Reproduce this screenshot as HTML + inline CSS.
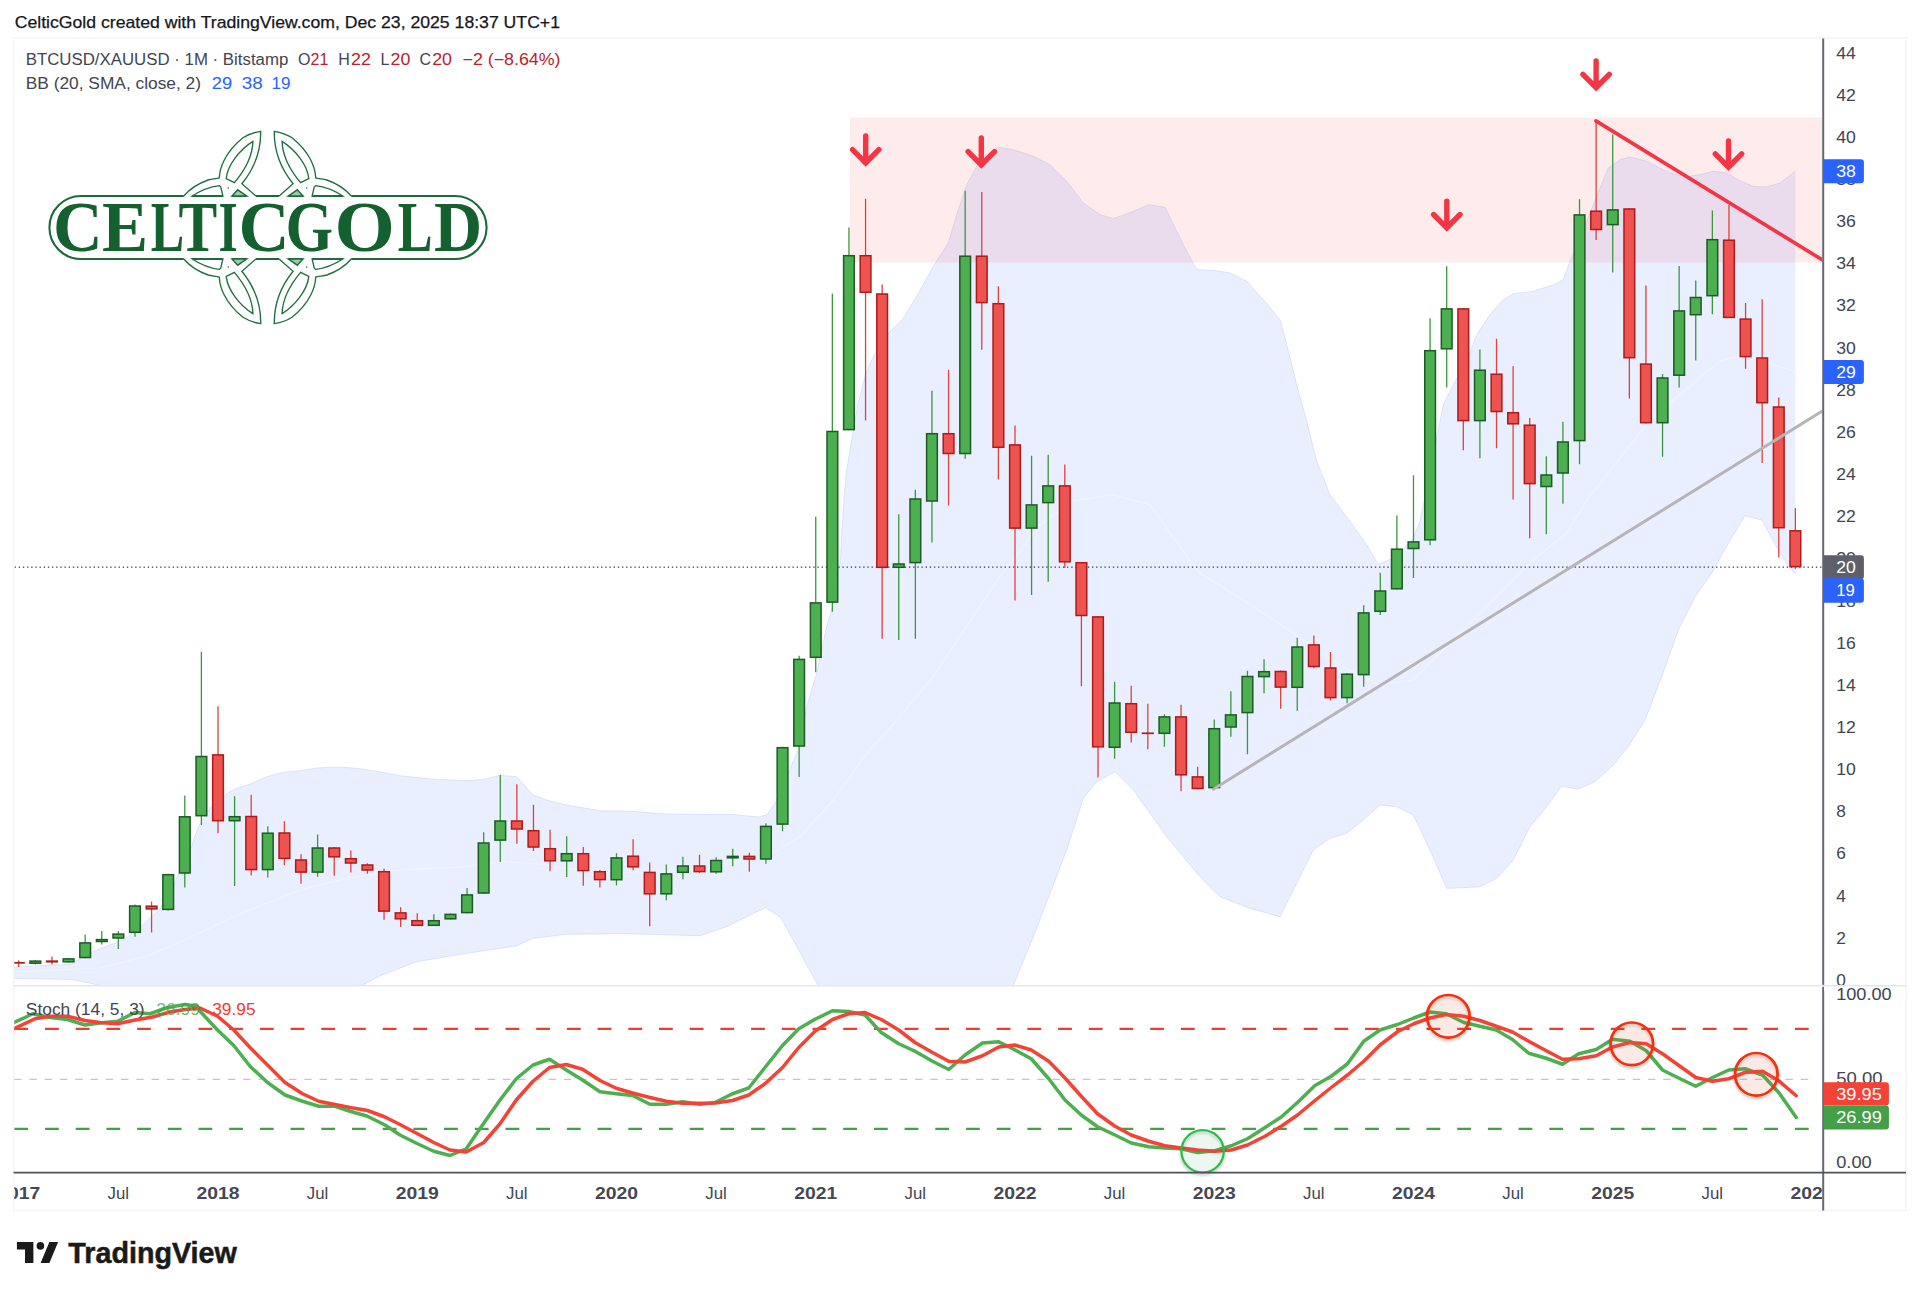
<!DOCTYPE html>
<html lang="en"><head><meta charset="utf-8"><title>BTCUSD/XAUUSD chart - CelticGold</title>
<style>html,body{margin:0;padding:0;background:#fff}body{width:1920px;height:1295px;overflow:hidden}svg{display:block;font-family:'Liberation Sans', Arial, Helvetica, sans-serif}</style></head><body>
<svg width="1920" height="1295" viewBox="0 0 1920 1295">
<defs>
<clipPath id="mainclip"><rect x="14.3" y="38.5" width="1807.7" height="946.5"/></clipPath>
<clipPath id="stochclip"><rect x="14.3" y="986" width="1807.7" height="186.1"/></clipPath>
<clipPath id="timeclip"><rect x="14.3" y="1172.6" width="1807.7" height="37.9"/></clipPath>
<filter id="sh" x="-30%" y="-30%" width="160%" height="180%"><feGaussianBlur in="SourceAlpha" stdDeviation="1.6"/><feOffset dy="2.2" result="b"/><feComponentTransfer><feFuncA type="linear" slope="0.28"/></feComponentTransfer><feMerge><feMergeNode/><feMergeNode in="SourceGraphic"/></feMerge></filter>
</defs>
<rect width="1920" height="1295" fill="#ffffff"/>
<text x="14.7" y="27.5" font-size="16.4" fill="#15171c" text-anchor="start" font-weight="normal" textLength="545.3" lengthAdjust="spacingAndGlyphs" stroke="#15171c" stroke-width="0.25">CelticGold created with TradingView.com, Dec 23, 2025 18:37 UTC+1</text>
<rect x="13.6" y="37.8" width="1892.4" height="1172.7" fill="none" stroke="#f5f5f7" stroke-width="1.6"/>
<g clip-path="url(#mainclip)">
<polygon points="13,967 14.2,966.9 71,964.3 92.4,951.8 110.1,944.7 124.3,939.4 142.1,925.2 159.9,909.2 174.1,884.3 184.7,859.5 191.7,845.8 198.3,826.7 210,808 228.3,792.5 236.7,788.3 250,784.2 266.7,776.7 283.3,772.5 300,770.8 316.7,768 333.3,767 350,767.7 366.7,769.7 383.3,772.5 400,775.8 433.3,779.2 466.7,780.8 483,779.5 500,775.3 516.7,776.7 533.3,795 550,801 566.7,805 600,810.8 633,811.3 666.7,814.2 733,814.5 758,817 766.7,815 775,803.3 788.3,773.3 800,745 806.7,706.7 816.7,673.3 826.7,626.7 833.3,603.3 840.5,559.7 841.7,535.8 844.2,495 846.7,470 850,450 853.3,430 857.5,406.7 861.7,390 865.8,373.3 871.7,360 880,345 890,331.7 901.7,320 905,315.5 916.7,296.3 933.3,266.3 948.3,243 956.7,214.7 966.7,184.7 976.7,166.3 986.7,154.7 998.3,147.3 1013.3,149.7 1033.3,156.3 1050,164.7 1066.7,181.3 1083.3,203 1100,214.7 1113.3,218.7 1133.3,211.3 1148.3,204.7 1165,207.3 1176.7,231.3 1186.7,251.3 1196.7,269.7 1213.3,270.3 1230,273 1246.7,281.3 1263.3,299.7 1280,319.7 1286.7,344.7 1296.7,384.7 1306.7,421.3 1316.7,461.3 1330,494.7 1350,521.3 1366.7,544.7 1378,564.5 1396.7,556.7 1413.3,538 1420,521.3 1430,472 1443.3,404.7 1453.3,384.7 1466.7,361.3 1476.7,334.7 1490,314.7 1503.3,299.7 1513.3,293.7 1533.3,291.3 1553.3,284.7 1563.3,279.7 1570,261.3 1580,238 1600,188 1608.3,168 1620,159.7 1630,157 1646.7,161.3 1666.7,171.3 1683.3,177.3 1700,174.7 1713.3,171.3 1726.7,173 1740,180.7 1753.3,186.3 1766.7,187 1780,183 1795.4,171.3 1795.4,574 1789,567 1778.3,550 1761.7,520 1745,515.7 1728.3,543.3 1711.7,573.3 1695,596.7 1678.3,630 1661.7,676.7 1645,720 1628.3,746.7 1611.7,766.7 1595,781.7 1578.3,789.3 1561.7,786 1546.7,806.7 1530,826.7 1513.3,860 1496.7,878.3 1480,886.7 1463.3,887.7 1446.7,888.3 1430,850 1413.3,815 1396.7,806.7 1380,805 1363.3,820 1346.7,833.3 1330,838.3 1313.3,850 1296.7,883.3 1280,916.7 1250,908.3 1220,896.7 1200,876.7 1183.3,856.7 1166.7,836.7 1150,813.3 1133.3,790 1115,771.7 1096.7,781.7 1083.3,798.3 1066.7,850 1050,893.3 1033.3,936.7 1013.3,985.5 1005,1000 830,1000 818.3,985.5 806.7,965 793.3,940 780,916.7 765.7,907.7 750,915 726.7,926.7 700,935.7 619.8,933.5 600,934 566.7,934.2 533.3,938.3 516.7,945.8 466.7,953.3 416.7,961.7 380,975.8 362,985.5 330,1000 130,1000 100,985.5 88.8,982.9 71,979.4 14.2,978.5 13,978.5" fill="#2962ff" fill-opacity="0.1"/>
<polyline points="13,967 14.2,966.9 71,964.3 92.4,951.8 110.1,944.7 124.3,939.4 142.1,925.2 159.9,909.2 174.1,884.3 184.7,859.5 191.7,845.8 198.3,826.7 210,808 228.3,792.5 236.7,788.3 250,784.2 266.7,776.7 283.3,772.5 300,770.8 316.7,768 333.3,767 350,767.7 366.7,769.7 383.3,772.5 400,775.8 433.3,779.2 466.7,780.8 483,779.5 500,775.3 516.7,776.7 533.3,795 550,801 566.7,805 600,810.8 633,811.3 666.7,814.2 733,814.5 758,817 766.7,815 775,803.3 788.3,773.3 800,745 806.7,706.7 816.7,673.3 826.7,626.7 833.3,603.3 840.5,559.7 841.7,535.8 844.2,495 846.7,470 850,450 853.3,430 857.5,406.7 861.7,390 865.8,373.3 871.7,360 880,345 890,331.7 901.7,320 905,315.5 916.7,296.3 933.3,266.3 948.3,243 956.7,214.7 966.7,184.7 976.7,166.3 986.7,154.7 998.3,147.3 1013.3,149.7 1033.3,156.3 1050,164.7 1066.7,181.3 1083.3,203 1100,214.7 1113.3,218.7 1133.3,211.3 1148.3,204.7 1165,207.3 1176.7,231.3 1186.7,251.3 1196.7,269.7 1213.3,270.3 1230,273 1246.7,281.3 1263.3,299.7 1280,319.7 1286.7,344.7 1296.7,384.7 1306.7,421.3 1316.7,461.3 1330,494.7 1350,521.3 1366.7,544.7 1378,564.5 1396.7,556.7 1413.3,538 1420,521.3 1430,472 1443.3,404.7 1453.3,384.7 1466.7,361.3 1476.7,334.7 1490,314.7 1503.3,299.7 1513.3,293.7 1533.3,291.3 1553.3,284.7 1563.3,279.7 1570,261.3 1580,238 1600,188 1608.3,168 1620,159.7 1630,157 1646.7,161.3 1666.7,171.3 1683.3,177.3 1700,174.7 1713.3,171.3 1726.7,173 1740,180.7 1753.3,186.3 1766.7,187 1780,183 1795.4,171.3" fill="none" stroke="#cdd6f3" stroke-opacity="0.6" stroke-width="1"/>
<polyline points="13,978.5 14.2,978.5 71,979.4 88.8,982.9 100,985.5 130,1000 330,1000 362,985.5 380,975.8 416.7,961.7 466.7,953.3 516.7,945.8 533.3,938.3 566.7,934.2 600,934 619.8,933.5 700,935.7 726.7,926.7 750,915 765.7,907.7 780,916.7 793.3,940 806.7,965 818.3,985.5 830,1000 1005,1000 1013.3,985.5 1033.3,936.7 1050,893.3 1066.7,850 1083.3,798.3 1096.7,781.7 1115,771.7 1133.3,790 1150,813.3 1166.7,836.7 1183.3,856.7 1200,876.7 1220,896.7 1250,908.3 1280,916.7 1296.7,883.3 1313.3,850 1330,838.3 1346.7,833.3 1363.3,820 1380,805 1396.7,806.7 1413.3,815 1430,850 1446.7,888.3 1463.3,887.7 1480,886.7 1496.7,878.3 1513.3,860 1530,826.7 1546.7,806.7 1561.7,786 1578.3,789.3 1595,781.7 1611.7,766.7 1628.3,746.7 1645,720 1661.7,676.7 1678.3,630 1695,596.7 1711.7,573.3 1728.3,543.3 1745,515.7 1761.7,520 1778.3,550 1789,567 1795.4,574" fill="none" stroke="#cdd6f3" stroke-opacity="0.6" stroke-width="1"/>
<polyline points="14,972 100,968 150,955 200,933 233,916.7 266.7,903.3 300,890 333,881.7 366.7,875 400,870 433,868.3 466.7,866.7 500,861.7 533,863.3 566.7,868.3 640,873.3 700,870 766.7,856.7 800,836.7 833.3,800 866.7,753.3 900,716.7 933.3,676.7 966.7,626.7 1000,576.7 1040,525 1073,501 1113,494.7 1150,504.7 1183,551 1200,573 1243,600 1293,633 1340,665 1380,685 1413,680 1460,633 1533,560 1567,533 1587,500 1650,420 1720,361 1745,355 1795.4,371.8" fill="none" stroke="#ffffff" stroke-opacity="0.35" stroke-width="1.2"/>
<rect x="850" y="117.5" width="973" height="145" fill="#f23645" fill-opacity="0.1"/>
<line x1="14.6" y1="567.1" x2="1823" y2="567.1" stroke="#33363f" stroke-width="1.25" stroke-dasharray="1.3 2.86"/>
<path d="M35.35 960.2V964.6M68.56 958.2V962.5M85.17 934.4V958.2M101.77 930.9V944.4M118.37 931V949M134.98 904.4V936.7M168.19 873.7V910.6M184.79 795.5V887.5M201.39 651.7V825M234.6 796.2V886.1M267.81 826.2V877.4M317.62 834.5V876.7M433.85 914.3V926M450.45 913.5V919.5M467.06 888V913.3M483.66 832.2V893.7M500.27 775V862M566.68 836.3V877M616.49 853.3V885.6M666.31 864.5V900.3M682.91 856.7V879.3M716.12 857.2V873.7M732.72 848.7V866.2M765.93 823.3V863.8M782.53 746.7V831.3M799.14 655.8V777M815.74 516.7V672.2M832.35 293.7V611.7M848.95 227.5V430.3M898.76 514.2V640M915.37 489.7V638.7M931.97 390.8V542.5M965.18 190.8V458.8M1031.59 455.8V595M1048.2 454.7V581.7M1114.61 681.7V758.7M1164.43 714.2V746.7M1214.24 719.5V788.3M1230.84 691.3V736.7M1247.45 670.8V754.2M1264.05 659.2V693.3M1297.26 637.8V710.8M1347.07 673.3V703.3M1363.67 605.3V686.7M1380.28 572.8V615M1396.88 515.5V589.5M1413.49 475.3V578M1430.09 318.3V545.3M1446.69 266.2V387.5M1479.9 349.5V458.3M1546.32 456.3V534.2M1562.92 421.7V503.7M1579.53 199.2V464.2M1612.73 134.3V272.5M1662.55 374V456.7M1679.15 265.9V387.6M1695.75 280.4V360.5M1712.36 210.4V314.3" stroke="#3d963f" stroke-width="1.3" fill="none"/>
<path d="M18.75 960.2V966.9M51.96 956.6V964.6M151.58 901.6V932.6M218 706.2V833.3M251.21 794.7V875.5M284.41 821.3V865.3M301.02 854.2V883.7M334.23 847V875.8M350.83 850.5V872.5M367.43 863.3V873.8M384.04 868.7V919.7M400.64 907.2V927M417.25 913.3V926M516.87 784.2V843.8M533.47 804.7V851M550.08 829.7V871.3M583.29 847V885.8M599.89 870V887.5M633.1 839.2V870.3M649.7 862.5V926.3M699.51 854.7V872.8M749.33 852.8V871.7M865.55 198.8V420.5M882.16 284.5V638.7M948.57 369.7V505.5M981.78 192V349.7M998.39 286.2V479.5M1014.99 425.5V600.5M1064.8 464.5V568M1081.41 562V686.3M1098.01 616.2V777.5M1131.22 685.8V742.5M1147.82 703.7V749.2M1181.03 704.7V791.3M1197.63 766.7V789.2M1280.65 670.5V708.7M1313.86 635.5V668.3M1330.47 652V700.5M1463.3 308.2V450.3M1496.51 338.8V448.3M1513.11 366.3V499.5M1529.71 418V538.3M1596.13 120.7V240M1629.34 208.3V398.4M1645.94 285.4V423.4M1728.96 205V318.1M1745.57 303.1V368.8M1762.17 299.3V462.9M1778.77 397.5V557.6M1795.38 508.1V568.8" stroke="#dd423d" stroke-width="1.3" fill="none"/>
<g fill="#4caf50" stroke="#1d5a25" stroke-width="1.5"><rect x="30" y="961.1" width="10.7" height="2.1"/><rect x="63.21" y="958.9" width="10.7" height="2.9"/><rect x="79.82" y="942.9" width="10.7" height="14.6"/><rect x="96.42" y="939.6" width="10.7" height="1.9"/><rect x="113.02" y="934.1" width="10.7" height="3.9"/><rect x="129.63" y="906" width="10.7" height="26.3"/><rect x="162.84" y="874.7" width="10.7" height="34.7"/><rect x="179.44" y="816.8" width="10.7" height="56.2"/><rect x="196.04" y="756.5" width="10.7" height="59.2"/><rect x="229.25" y="816.7" width="10.7" height="4"/><rect x="262.46" y="833.2" width="10.7" height="36.4"/><rect x="312.27" y="848" width="10.7" height="24.1"/><rect x="428.5" y="920.7" width="10.7" height="4.6"/><rect x="445.1" y="914.4" width="10.7" height="4.4"/><rect x="461.71" y="894.9" width="10.7" height="17.7"/><rect x="478.31" y="843" width="10.7" height="50"/><rect x="494.92" y="821" width="10.7" height="19.1"/><rect x="561.33" y="853.7" width="10.7" height="7.1"/><rect x="611.14" y="857.9" width="10.7" height="21.8"/><rect x="660.96" y="873.9" width="10.7" height="19.9"/><rect x="677.56" y="866" width="10.7" height="6.3"/><rect x="710.77" y="860.5" width="10.7" height="11.3"/><rect x="727.37" y="856.4" width="10.7" height="1.4"/><rect x="760.58" y="826.4" width="10.7" height="32.6"/><rect x="777.18" y="747.7" width="10.7" height="76.4"/><rect x="793.79" y="659.4" width="10.7" height="86.6"/><rect x="810.39" y="602.9" width="10.7" height="54.4"/><rect x="827" y="431.5" width="10.7" height="170.6"/><rect x="843.6" y="255.7" width="10.7" height="173.9"/><rect x="893.41" y="564" width="10.7" height="3.3"/><rect x="910.02" y="499" width="10.7" height="63.6"/><rect x="926.62" y="433.7" width="10.7" height="67.3"/><rect x="959.83" y="256.2" width="10.7" height="197.3"/><rect x="1026.24" y="504.9" width="10.7" height="23.2"/><rect x="1042.85" y="485.9" width="10.7" height="16.7"/><rect x="1109.26" y="703" width="10.7" height="44.3"/><rect x="1159.08" y="716.9" width="10.7" height="16.4"/><rect x="1208.89" y="728.7" width="10.7" height="58.9"/><rect x="1225.49" y="714.9" width="10.7" height="12.1"/><rect x="1242.1" y="676.5" width="10.7" height="36.1"/><rect x="1258.7" y="671.7" width="10.7" height="4.9"/><rect x="1291.91" y="647" width="10.7" height="40.3"/><rect x="1341.72" y="674.2" width="10.7" height="23.4"/><rect x="1358.32" y="612.9" width="10.7" height="61.7"/><rect x="1374.93" y="591" width="10.7" height="20.3"/><rect x="1391.53" y="549.2" width="10.7" height="39.6"/><rect x="1408.14" y="541.9" width="10.7" height="6.6"/><rect x="1424.74" y="350.7" width="10.7" height="189.1"/><rect x="1441.34" y="308.9" width="10.7" height="39.9"/><rect x="1474.55" y="370.2" width="10.7" height="50.4"/><rect x="1540.97" y="475" width="10.7" height="11.5"/><rect x="1557.57" y="442" width="10.7" height="31"/><rect x="1574.18" y="214.9" width="10.7" height="225.7"/><rect x="1607.38" y="209.9" width="10.7" height="14.7"/><rect x="1657.2" y="378" width="10.7" height="44.7"/><rect x="1673.8" y="310.9" width="10.7" height="64.3"/><rect x="1690.4" y="297.5" width="10.7" height="17.2"/><rect x="1707.01" y="239.7" width="10.7" height="56"/></g>
<g fill="#ef5350" stroke="#ab1b1b" stroke-width="1.5"><rect x="13.4" y="962.7" width="10.7" height="0.2"/><rect x="46.61" y="961.1" width="10.7" height="0.7"/><rect x="146.23" y="906.2" width="10.7" height="2.7"/><rect x="212.65" y="754.9" width="10.7" height="65.8"/><rect x="245.86" y="816.5" width="10.7" height="53.1"/><rect x="279.06" y="833" width="10.7" height="25.4"/><rect x="295.67" y="860" width="10.7" height="12.1"/><rect x="328.88" y="848" width="10.7" height="8.8"/><rect x="345.48" y="858.7" width="10.7" height="4.3"/><rect x="362.08" y="865" width="10.7" height="5"/><rect x="378.69" y="871.7" width="10.7" height="39.4"/><rect x="395.29" y="912.9" width="10.7" height="5.9"/><rect x="411.9" y="920.7" width="10.7" height="4.6"/><rect x="511.52" y="821" width="10.7" height="8"/><rect x="528.12" y="830.7" width="10.7" height="16.3"/><rect x="544.73" y="848.7" width="10.7" height="12.1"/><rect x="577.94" y="853.7" width="10.7" height="16.9"/><rect x="594.54" y="871.7" width="10.7" height="7.9"/><rect x="627.75" y="856.2" width="10.7" height="10.6"/><rect x="644.35" y="872.4" width="10.7" height="21.4"/><rect x="694.16" y="866" width="10.7" height="5.6"/><rect x="743.98" y="856.4" width="10.7" height="2.6"/><rect x="860.2" y="255.7" width="10.7" height="36.6"/><rect x="876.81" y="294" width="10.7" height="273.3"/><rect x="943.22" y="433.7" width="10.7" height="19.8"/><rect x="976.43" y="256.2" width="10.7" height="46.4"/><rect x="993.04" y="303.7" width="10.7" height="143.6"/><rect x="1009.64" y="444.9" width="10.7" height="83.2"/><rect x="1059.45" y="485.9" width="10.7" height="75.9"/><rect x="1076.06" y="562.7" width="10.7" height="52.8"/><rect x="1092.66" y="616.9" width="10.7" height="129.9"/><rect x="1125.87" y="703.7" width="10.7" height="28.6"/><rect x="1142.47" y="733.2" width="10.7" height="0.2"/><rect x="1175.68" y="716.9" width="10.7" height="57.9"/><rect x="1192.28" y="776.9" width="10.7" height="11.6"/><rect x="1275.3" y="671.5" width="10.7" height="15.6"/><rect x="1308.51" y="644.9" width="10.7" height="21.6"/><rect x="1325.12" y="668" width="10.7" height="29.6"/><rect x="1457.95" y="308.9" width="10.7" height="111.7"/><rect x="1491.16" y="374.2" width="10.7" height="37.3"/><rect x="1507.76" y="412.7" width="10.7" height="11.1"/><rect x="1524.36" y="425.2" width="10.7" height="58.4"/><rect x="1590.78" y="211.2" width="10.7" height="18.3"/><rect x="1623.99" y="209" width="10.7" height="148.7"/><rect x="1640.59" y="364.1" width="10.7" height="58.6"/><rect x="1723.61" y="240.2" width="10.7" height="77.2"/><rect x="1740.22" y="319.1" width="10.7" height="37.5"/><rect x="1756.82" y="358" width="10.7" height="44.7"/><rect x="1773.42" y="407" width="10.7" height="120.7"/><rect x="1790.03" y="530.8" width="10.7" height="35.8"/></g>
<line x1="1213.3" y1="789.2" x2="1823" y2="410.6" stroke="#b5b5b6" stroke-width="3.0" stroke-linecap="round"/>
<line x1="1595.9" y1="120.9" x2="1823" y2="260.3" stroke="#f23645" stroke-width="3.6" stroke-linecap="round"/>
<path d="M865.7 136V163M852.5 149.7L865.7 163L878.9 149.7" fill="none" stroke="#f23645" stroke-width="5.4" stroke-linecap="round" stroke-linejoin="miter"/>
<path d="M981.3 138V165M968.1 151.7L981.3 165L994.5 151.7" fill="none" stroke="#f23645" stroke-width="5.4" stroke-linecap="round" stroke-linejoin="miter"/>
<path d="M1446.8 201.1V227.8M1433.6 214.5L1446.8 227.8L1460 214.5" fill="none" stroke="#f23645" stroke-width="5.4" stroke-linecap="round" stroke-linejoin="miter"/>
<path d="M1596.1 60.9V87.6M1582.9 74.3L1596.1 87.6L1609.3 74.3" fill="none" stroke="#f23645" stroke-width="5.4" stroke-linecap="round" stroke-linejoin="miter"/>
<path d="M1728.5 141V167.1M1715.3 153.8L1728.5 167.1L1741.7 153.8" fill="none" stroke="#f23645" stroke-width="5.4" stroke-linecap="round" stroke-linejoin="miter"/>
</g>
<text x="25.7" y="65" font-size="16" fill="#42454f" text-anchor="start" font-weight="normal" textLength="262.6" lengthAdjust="spacingAndGlyphs">BTCUSD/XAUUSD · 1M · Bitstamp</text>
<text x="297.9" y="65" font-size="16" fill="#42454f" text-anchor="start" font-weight="normal">O</text>
<text x="310.6" y="65" font-size="16" fill="#b9222c" text-anchor="start" font-weight="normal" textLength="17.8" lengthAdjust="spacingAndGlyphs">21</text>
<text x="338.3" y="65" font-size="16" fill="#42454f" text-anchor="start" font-weight="normal">H</text>
<text x="351" y="65" font-size="16" fill="#b9222c" text-anchor="start" font-weight="normal" textLength="19.8" lengthAdjust="spacingAndGlyphs">22</text>
<text x="380.6" y="65" font-size="16" fill="#42454f" text-anchor="start" font-weight="normal">L</text>
<text x="390.6" y="65" font-size="16" fill="#b9222c" text-anchor="start" font-weight="normal" textLength="19.7" lengthAdjust="spacingAndGlyphs">20</text>
<text x="419.5" y="65" font-size="16" fill="#42454f" text-anchor="start" font-weight="normal">C</text>
<text x="432.2" y="65" font-size="16" fill="#b9222c" text-anchor="start" font-weight="normal" textLength="19.8" lengthAdjust="spacingAndGlyphs">20</text>
<text x="462.5" y="65" font-size="16" fill="#b9222c" text-anchor="start" font-weight="normal" textLength="98" lengthAdjust="spacingAndGlyphs">−2 (−8.64%)</text>
<text x="25.8" y="89.2" font-size="16" fill="#42454f" text-anchor="start" font-weight="normal" textLength="175.2" lengthAdjust="spacingAndGlyphs">BB (20, SMA, close, 2)</text>
<text x="211.7" y="89.2" font-size="16" fill="#2962ff" text-anchor="start" font-weight="normal" textLength="20.4" lengthAdjust="spacingAndGlyphs">29</text>
<text x="241.8" y="89.2" font-size="16" fill="#2962ff" text-anchor="start" font-weight="normal" textLength="21" lengthAdjust="spacingAndGlyphs">38</text>
<text x="271.6" y="89.2" font-size="16" fill="#2962ff" text-anchor="start" font-weight="normal" textLength="19" lengthAdjust="spacingAndGlyphs">19</text>
<g clip-path="url(#stochclip)">
<line x1="14.1" y1="1079.4" x2="1810" y2="1079.4" stroke="#c6c6c8" stroke-width="1.1" stroke-dasharray="7.5 7.77"/>
<line x1="14.3" y1="1028.9" x2="1810" y2="1028.9" stroke="#f23b30" stroke-width="2.3" stroke-dasharray="13.8 16.9"/>
<line x1="14.3" y1="1128.9" x2="1810" y2="1128.9" stroke="#43a047" stroke-width="2.3" stroke-dasharray="13.8 16.9"/>
<polyline points="14,1022.5 25,1017.5 32.5,1013.75 50,1017.5 67.5,1019.5 85,1025 100,1023 117.5,1021.25 135,1012.5 150,1013.75 167.5,1007.5 185,1004.5 197.5,1006.25 200,1011.25 217.5,1030 233.75,1045.5 250,1066.25 267.5,1082.5 285,1095 302.5,1101.25 318.75,1106.25 335,1106.25 350,1111.25 367.5,1116.25 385,1125 400,1135 417.5,1143.75 433.75,1151.25 450,1155.5 466.25,1148.75 482.5,1125 500,1100 516.25,1078.75 533,1065 549.5,1059.25 566.25,1070 582.5,1080 600,1091.75 616.25,1093.75 632.5,1095.5 650,1104.25 666.25,1104.25 682.5,1101.75 700,1104.25 715,1102.5 732.5,1093.75 748.75,1088 765,1067.5 782.5,1045.5 798.75,1028.75 815,1019.25 832.5,1010.75 848.75,1011.5 865,1015 881.25,1032.5 898.75,1043.75 915,1051.25 932.5,1061.25 948.75,1069.5 965,1055 982.5,1043 998.75,1041.75 1015,1050 1031.25,1058.75 1048.75,1078.75 1065,1100 1081.25,1115 1097.5,1126.75 1115,1135 1131.25,1143 1148.75,1146.75 1165,1148 1181.25,1148.75 1197.5,1152.5 1215,1150.75 1231.25,1145.75 1247.5,1138.75 1265,1127.5 1281.25,1117 1297.5,1102.5 1315,1085.5 1331.25,1076.25 1347.5,1063.75 1363.75,1041.25 1380,1030 1397.5,1024.5 1413.75,1018 1430,1012 1446.25,1013.75 1463.75,1022.5 1480,1026.25 1496.25,1030 1512.5,1039.5 1528.75,1053.25 1546.25,1058.25 1562.5,1064.25 1578.75,1053.75 1596.25,1049.5 1612.5,1039.25 1630,1041.25 1646.25,1050.75 1662.5,1070 1680,1078.75 1695.75,1086.25 1712.5,1077.5 1728.75,1070 1745,1068.75 1762.5,1075 1778.75,1092.5 1796.25,1117.5" fill="none" stroke="#4caf50" stroke-width="3.5" stroke-linejoin="round" stroke-linecap="round"/>
<polyline points="14,1028.75 35,1018.75 50,1016.25 67.5,1016.25 85,1020.5 100,1022.5 117.5,1023.75 135,1020 152.5,1017 170,1012 185,1009.5 200,1008 217.5,1016.25 233.75,1030 250,1047.5 267.5,1065 285,1082.5 302.5,1093.75 318.75,1101.25 335,1104.5 350,1107.5 367.5,1110.5 385,1117 400,1124.5 417.5,1133.75 433.75,1142.5 450,1150 466.25,1152 483.75,1142.5 500,1123.75 516.25,1100 533,1081.25 549.5,1067.5 566.25,1064.5 582.5,1069.25 600,1080.5 616.25,1088.25 632.5,1093 650,1097.5 666.25,1101.25 682.5,1103.25 700,1103.25 715,1103 732.5,1100.5 748.75,1095 765,1083.75 782.5,1067.5 798.75,1047.5 815,1031.25 832.5,1019.5 848.75,1013.75 865,1012.5 881.25,1019.5 898.75,1030 915,1042.5 932.5,1052.5 948.75,1061.25 965,1062 982.5,1055.75 998.75,1047 1015,1045 1031.25,1050 1048.75,1061.25 1065,1078 1081.25,1096.25 1097.5,1113.75 1115,1126.25 1131.25,1135 1148.75,1141.25 1165,1145.75 1181.25,1148 1197.5,1150 1215,1151.25 1231.25,1150 1247.5,1145 1265,1136.25 1281.25,1126.25 1297.5,1115 1315,1100.5 1331.25,1087.5 1347.5,1075 1363.75,1061.25 1380,1045 1397.5,1031.75 1413.75,1023.75 1430,1018 1446.25,1014.5 1463.75,1016.25 1480,1020.5 1496.25,1026.25 1512.5,1032 1528.75,1041.25 1546.25,1050.75 1562.5,1059.25 1578.75,1058.75 1596.25,1055.75 1612.5,1047 1630,1042.5 1646.25,1043.75 1662.5,1053.75 1680,1066.25 1695.75,1077.5 1712.5,1081.25 1728.75,1078.75 1745,1072.5 1762.5,1071.25 1778.75,1080.75 1796.25,1095.75" fill="none" stroke="#f44336" stroke-width="3.5" stroke-linejoin="round" stroke-linecap="round"/>
</g>
<circle cx="1448.3" cy="1016.3" r="21.3" fill="#e8573a" fill-opacity="0.1" stroke="#f3300f" stroke-width="2.7" filter="url(#sh)"/>
<circle cx="1631.8" cy="1043.8" r="21.3" fill="#e8573a" fill-opacity="0.1" stroke="#f3300f" stroke-width="2.7" filter="url(#sh)"/>
<circle cx="1756.3" cy="1074.3" r="21.3" fill="#e8573a" fill-opacity="0.1" stroke="#f3300f" stroke-width="2.7" filter="url(#sh)"/>
<circle cx="1202.6" cy="1151.3" r="21.2" fill="#4caf50" fill-opacity="0.07" stroke="#2cbd4a" stroke-width="2.2" filter="url(#sh)"/>
<text x="25.8" y="1015" font-size="16" fill="#42454f" text-anchor="start" font-weight="normal" textLength="118.8" lengthAdjust="spacingAndGlyphs">Stoch (14, 5, 3)</text>
<text x="156.3" y="1015" font-size="16" fill="#43a047" text-anchor="start" font-weight="normal" textLength="43.6" lengthAdjust="spacingAndGlyphs" fill-opacity="0.75">26.99</text>
<text x="212.2" y="1015" font-size="16" fill="#f23b30" text-anchor="start" font-weight="normal" textLength="43.4" lengthAdjust="spacingAndGlyphs">39.95</text>
<line x1="1823.2" y1="38.4" x2="1823.2" y2="1210.5" stroke="#656772" stroke-width="2.0"/>
<rect x="1821" y="984.9" width="4" height="1.8" fill="#fff"/>
<line x1="13.6" y1="1172.6" x2="1906" y2="1172.6" stroke="#50525b" stroke-width="1.6"/>
<g font-size="16.2" fill="#42454f">
<text x="1836.2" y="985.93" textLength="9.6" lengthAdjust="spacingAndGlyphs">0</text>
<text x="1836.2" y="943.78" textLength="9.6" lengthAdjust="spacingAndGlyphs">2</text>
<text x="1836.2" y="901.62" textLength="9.6" lengthAdjust="spacingAndGlyphs">4</text>
<text x="1836.2" y="859.46" textLength="9.6" lengthAdjust="spacingAndGlyphs">6</text>
<text x="1836.2" y="817.31" textLength="9.6" lengthAdjust="spacingAndGlyphs">8</text>
<text x="1836.2" y="775.15" textLength="19.6" lengthAdjust="spacingAndGlyphs">10</text>
<text x="1836.2" y="733" textLength="19.6" lengthAdjust="spacingAndGlyphs">12</text>
<text x="1836.2" y="690.84" textLength="19.6" lengthAdjust="spacingAndGlyphs">14</text>
<text x="1836.2" y="648.68" textLength="19.6" lengthAdjust="spacingAndGlyphs">16</text>
<text x="1836.2" y="606.53" textLength="19.6" lengthAdjust="spacingAndGlyphs">18</text>
<text x="1836.2" y="564.37" textLength="19.6" lengthAdjust="spacingAndGlyphs">20</text>
<text x="1836.2" y="522.22" textLength="19.6" lengthAdjust="spacingAndGlyphs">22</text>
<text x="1836.2" y="480.06" textLength="19.6" lengthAdjust="spacingAndGlyphs">24</text>
<text x="1836.2" y="437.9" textLength="19.6" lengthAdjust="spacingAndGlyphs">26</text>
<text x="1836.2" y="395.75" textLength="19.6" lengthAdjust="spacingAndGlyphs">28</text>
<text x="1836.2" y="353.59" textLength="19.6" lengthAdjust="spacingAndGlyphs">30</text>
<text x="1836.2" y="311.44" textLength="19.6" lengthAdjust="spacingAndGlyphs">32</text>
<text x="1836.2" y="269.28" textLength="19.6" lengthAdjust="spacingAndGlyphs">34</text>
<text x="1836.2" y="227.12" textLength="19.6" lengthAdjust="spacingAndGlyphs">36</text>
<text x="1836.2" y="184.97" textLength="19.6" lengthAdjust="spacingAndGlyphs">38</text>
<text x="1836.2" y="142.81" textLength="19.6" lengthAdjust="spacingAndGlyphs">40</text>
<text x="1836.2" y="100.66" textLength="19.6" lengthAdjust="spacingAndGlyphs">42</text>
<text x="1836.2" y="58.5" textLength="19.6" lengthAdjust="spacingAndGlyphs">44</text>
</g>
<rect x="1824" y="985" width="81" height="6" fill="#fff"/>
<line x1="13.6" y1="985.8" x2="1906" y2="985.8" stroke="#e6e6e6" stroke-width="1.6"/>
<text x="1836.2" y="1000.4" font-size="16.2" fill="#42454f" text-anchor="start" font-weight="normal" textLength="55.5" lengthAdjust="spacingAndGlyphs">100.00</text>
<text x="1836.2" y="1084.4" font-size="16.2" fill="#42454f" text-anchor="start" font-weight="normal" textLength="46.3" lengthAdjust="spacingAndGlyphs">50.00</text>
<text x="1836.2" y="1167.6" font-size="16.2" fill="#42454f" text-anchor="start" font-weight="normal" textLength="35.5" lengthAdjust="spacingAndGlyphs">0.00</text>
<path d="M1823.6 159.2H1860.9a3 3 0 0 1 3 3V180.2a3 3 0 0 1 -3 3H1823.6Z" fill="#2962ff"/>
<text x="1836.2" y="177.1" font-size="16.2" fill="#ffffff" text-anchor="start" font-weight="normal" textLength="19.6" lengthAdjust="spacingAndGlyphs">38</text>
<path d="M1823.6 360H1860.9a3 3 0 0 1 3 3V381a3 3 0 0 1 -3 3H1823.6Z" fill="#2962ff"/>
<text x="1836.2" y="377.9" font-size="16.2" fill="#ffffff" text-anchor="start" font-weight="normal" textLength="19.6" lengthAdjust="spacingAndGlyphs">29</text>
<path d="M1823.6 555.2H1860.9a3 3 0 0 1 3 3V576.2a3 3 0 0 1 -3 3H1823.6Z" fill="#5d606b"/>
<text x="1836.2" y="573.1" font-size="16.2" fill="#ffffff" text-anchor="start" font-weight="normal" textLength="19.6" lengthAdjust="spacingAndGlyphs">20</text>
<path d="M1823.6 578.2H1860.9a3 3 0 0 1 3 3V599.7a3 3 0 0 1 -3 3H1823.6Z" fill="#2962ff"/>
<text x="1836.2" y="596.35" font-size="16.2" fill="#ffffff" text-anchor="start" font-weight="normal" textLength="18.6" lengthAdjust="spacingAndGlyphs">19</text>
<path d="M1823.6 1082.2H1885.9a3 3 0 0 1 3 3V1102.4a3 3 0 0 1 -3 3H1823.6Z" fill="#f44336"/>
<text x="1836.2" y="1099.7" font-size="16.2" fill="#ffffff" text-anchor="start" font-weight="normal" textLength="45.6" lengthAdjust="spacingAndGlyphs">39.95</text>
<path d="M1823.6 1105.4H1885.9a3 3 0 0 1 3 3V1126.5a3 3 0 0 1 -3 3H1823.6Z" fill="#43a047"/>
<text x="1836.2" y="1123.35" font-size="16.2" fill="#ffffff" text-anchor="start" font-weight="normal" textLength="45.6" lengthAdjust="spacingAndGlyphs">26.99</text>
<g clip-path="url(#timeclip)" font-size="16.2" fill="#42454f" text-anchor="middle">
<text x="18.75" y="1198.8" font-weight="bold" fill="#454852" textLength="43" lengthAdjust="spacingAndGlyphs">2017</text>
<text x="118.37" y="1198.8" textLength="21.5" lengthAdjust="spacingAndGlyphs">Jul</text>
<text x="218" y="1198.8" font-weight="bold" fill="#454852" textLength="43" lengthAdjust="spacingAndGlyphs">2018</text>
<text x="317.62" y="1198.8" textLength="21.5" lengthAdjust="spacingAndGlyphs">Jul</text>
<text x="417.25" y="1198.8" font-weight="bold" fill="#454852" textLength="43" lengthAdjust="spacingAndGlyphs">2019</text>
<text x="516.87" y="1198.8" textLength="21.5" lengthAdjust="spacingAndGlyphs">Jul</text>
<text x="616.49" y="1198.8" font-weight="bold" fill="#454852" textLength="43" lengthAdjust="spacingAndGlyphs">2020</text>
<text x="716.12" y="1198.8" textLength="21.5" lengthAdjust="spacingAndGlyphs">Jul</text>
<text x="815.74" y="1198.8" font-weight="bold" fill="#454852" textLength="43" lengthAdjust="spacingAndGlyphs">2021</text>
<text x="915.37" y="1198.8" textLength="21.5" lengthAdjust="spacingAndGlyphs">Jul</text>
<text x="1014.99" y="1198.8" font-weight="bold" fill="#454852" textLength="43" lengthAdjust="spacingAndGlyphs">2022</text>
<text x="1114.61" y="1198.8" textLength="21.5" lengthAdjust="spacingAndGlyphs">Jul</text>
<text x="1214.24" y="1198.8" font-weight="bold" fill="#454852" textLength="43" lengthAdjust="spacingAndGlyphs">2023</text>
<text x="1313.86" y="1198.8" textLength="21.5" lengthAdjust="spacingAndGlyphs">Jul</text>
<text x="1413.49" y="1198.8" font-weight="bold" fill="#454852" textLength="43" lengthAdjust="spacingAndGlyphs">2024</text>
<text x="1513.11" y="1198.8" textLength="21.5" lengthAdjust="spacingAndGlyphs">Jul</text>
<text x="1612.73" y="1198.8" font-weight="bold" fill="#454852" textLength="43" lengthAdjust="spacingAndGlyphs">2025</text>
<text x="1712.36" y="1198.8" textLength="21.5" lengthAdjust="spacingAndGlyphs">Jul</text>
<text x="1811.98" y="1198.8" font-weight="bold" fill="#454852" textLength="43" lengthAdjust="spacingAndGlyphs">2026</text>
</g>
<g><text y="250.9" font-family="'Liberation Serif', 'Times New Roman', serif" font-size="71.5" fill="#14602f" stroke="#14602f" stroke-width="0.6" stroke-linejoin="round"><tspan x="52.88" textLength="49.67" lengthAdjust="spacingAndGlyphs" font-weight="bold" stroke-width="0">C</tspan><tspan x="101.93" textLength="46.07" lengthAdjust="spacingAndGlyphs" font-weight="bold" stroke-width="0">E</tspan><tspan x="150.65" textLength="33.4" lengthAdjust="spacingAndGlyphs" font-weight="bold" stroke-width="0">L</tspan><tspan x="178.47" textLength="38.71" lengthAdjust="spacingAndGlyphs" font-weight="bold" stroke-width="0">T</tspan><tspan x="218.62" textLength="19.21" lengthAdjust="spacingAndGlyphs" font-weight="bold" stroke-width="0">I</tspan><tspan x="238.48" textLength="51.06" lengthAdjust="spacingAndGlyphs" font-weight="bold" stroke-width="0">C</tspan><tspan x="285.4" textLength="47.62" lengthAdjust="spacingAndGlyphs" font-weight="bold" stroke-width="0">G</tspan><tspan x="334.5" textLength="60.38" lengthAdjust="spacingAndGlyphs" font-weight="bold" stroke-width="0">O</tspan><tspan x="397.86" textLength="34.78" lengthAdjust="spacingAndGlyphs" font-weight="bold" stroke-width="0">L</tspan><tspan x="434.1" textLength="48.13" lengthAdjust="spacingAndGlyphs" font-weight="bold" stroke-width="0">D</tspan></text>
<circle cx="228.3" cy="188" r="0.8" fill="#1f6e3d"/>
<circle cx="228.3" cy="267" r="0.8" fill="#1f6e3d"/>
<circle cx="306.7" cy="188" r="0.8" fill="#1f6e3d"/>
<circle cx="306.7" cy="267" r="0.8" fill="#1f6e3d"/>
<path d="M80.9 196H183.75M255.9 196H279.1M351.25 196H455.1M192.2 196H222.9M312.1 196H342.8M232 196H246.6M288.4 196H303M80.9 259H183.75M255.9 259H279.1M351.25 259H455.1M192.2 259H222.9M312.1 259H342.8M232 259H246.6M288.4 259H303M80.9 196A31.5 31.5 0 0 0 80.9 259M455.1 196A31.5 31.5 0 0 1 455.1 259" fill="none" stroke="#1a6a3c" stroke-width="2.1"/>
<path d="M183.75 196 C 189.4 189.4 198.75 183.3 208.1 180 C 212.5 178.9 217 178.8 219.3 177.8 C 219.6 168 225 152 243 137.7 C 249 133.8 255 132.2 260.7 131.3 C 261 148 255.5 167 241.9 183.75 L 255.9 196 M252.9 141.4 C 240 149.5 227.5 165 226.2 178.6 L 234.4 182.6 C 245 170 252.5 156 252.9 141.4 Z M192.2 196 C 198.75 191.7 208.1 187 219.4 185.6 L 220.8 187 L 222.9 196 Z M183.75 259 C 189.4 265.6 198.75 271.7 208.1 275 C 212.5 276.1 217 276.2 219.3 277.2 C 219.6 287 225 303 243 317.3 C 249 321.2 255 322.8 260.7 323.7 C 261 307 255.5 288 241.9 271.25 L 255.9 259 M252.9 313.6 C 240 305.5 227.5 290 226.2 276.4 L 234.4 272.4 C 245 285 252.5 299 252.9 313.6 Z M192.2 259 C 198.75 263.3 208.1 268 219.4 269.4 L 220.8 268 L 222.9 259 Z M351.25 196 C 345.6 189.4 336.25 183.3 326.9 180 C 322.5 178.9 318 178.8 315.7 177.8 C 315.4 168 310 152 292 137.7 C 286 133.8 280 132.2 274.3 131.3 C 274 148 279.5 167 293.1 183.75 L 279.1 196 M282.1 141.4 C 295 149.5 307.5 165 308.8 178.6 L 300.6 182.6 C 290 170 282.5 156 282.1 141.4 Z M342.8 196 C 336.25 191.7 326.9 187 315.6 185.6 L 314.2 187 L 312.1 196 Z M351.25 259 C 345.6 265.6 336.25 271.7 326.9 275 C 322.5 276.1 318 276.2 315.7 277.2 C 315.4 287 310 303 292 317.3 C 286 321.2 280 322.8 274.3 323.7 C 274 307 279.5 288 293.1 271.25 L 279.1 259 M282.1 313.6 C 295 305.5 307.5 290 308.8 276.4 L 300.6 272.4 C 290 285 282.5 299 282.1 313.6 Z M342.8 259 C 336.25 263.3 326.9 268 315.6 269.4 L 314.2 268 L 312.1 259 Z" fill="none" stroke="#1f6e3d" stroke-width="1.35" stroke-linejoin="miter"/>
<path d="M232 196 L 237.7 189.8 L 246.6 196 Z M232 259 L 237.7 265.2 L 246.6 259 Z M303 196 L 297.3 189.8 L 288.4 196 Z M303 259 L 297.3 265.2 L 288.4 259 Z" fill="#9fc9ae" stroke="#1f6e3d" stroke-width="1.5" stroke-linejoin="miter"/></g>
<g fill="#1a1a1a">
<path d="M16.9 1242.1H33.4V1262.9H25V1249.6H16.9Z"/>
<circle cx="40.4" cy="1245.9" r="3.8"/>
<path d="M49.4 1242.1H58.1L49.4 1262.9H40.6Z"/>
<text x="68.3" y="1262.9" font-size="28.6" font-weight="bold" stroke="#1a1a1a" stroke-width="0.5" textLength="168.6" lengthAdjust="spacingAndGlyphs">TradingView</text>
</g>
</svg></body></html>
